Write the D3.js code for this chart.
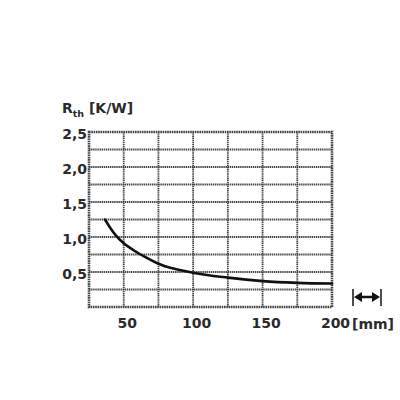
<!DOCTYPE html>
<html><head><meta charset="utf-8">
<script src="https://cdn.jsdelivr.net/npm/d3@7"></script>
<style>
html,body{margin:0;padding:0;background:#fff;}
svg{display:block;}
text{font-family:"DejaVu Sans",sans-serif;}
</style></head>
<body>
<script>
// Data
const lengthMm = [36.5, 40, 44, 50, 58, 65, 76, 100, 125, 150, 175, 200];
const rth      = [1.25, 1.14, 1.03, 0.91, 0.80, 0.72, 0.61, 0.49, 0.42, 0.37, 0.345, 0.335];
const xTickLabels = [50, 100, 150, 200];
const yTickLabels = [0.5, 1.0, 1.5, 2.0, 2.5];
const xGrid = [50, 75, 100, 125, 150, 175];
const yGrid = [0.25, 0.5, 0.75, 1.0, 1.25, 1.5, 1.75, 2.0, 2.25];

const W = 400, H = 400;
const svg = d3.select("body").append("svg").attr("width", W).attr("height", H);

const x = d3.scaleLinear().domain([25, 200]).range([89, 332]);
const y = d3.scaleLinear().domain([0, 2.5]).range([307, 132]);

const gridColor = "#444";
// grid
svg.append("g").selectAll("line").data(xGrid).join("line")
  .attr("x1", d => x(d)).attr("x2", d => x(d))
  .attr("y1", y(0)).attr("y2", y(2.5))
  .attr("stroke", gridColor).attr("stroke-width", 1.8).attr("stroke-dasharray", "1.4,0.7");
svg.append("g").selectAll("line").data(yGrid).join("line")
  .attr("y1", d => y(d)).attr("y2", d => y(d))
  .attr("x1", x(25)).attr("x2", x(200))
  .attr("stroke", gridColor).attr("stroke-width", 1.8).attr("stroke-dasharray", "1.4,0.7");
// border
svg.append("rect")
  .attr("x", x(25)).attr("y", y(2.5))
  .attr("width", x(200) - x(25)).attr("height", y(0) - y(2.5))
  .attr("fill", "none").attr("stroke", gridColor).attr("stroke-width", 2.6)
  .attr("stroke-dasharray", "1.6,0.7");

// curve
const pts = lengthMm.map((d, i) => [d, rth[i]]);
svg.append("path").datum(pts)
  .attr("d", d3.line().x(d => x(d[0])).y(d => y(d[1])).curve(d3.curveMonotoneX))
  .attr("fill", "none").attr("stroke", "#111").attr("stroke-width", 2.6)
  .attr("stroke-linecap", "round");

// axes labels
const xAxis = d3.axisBottom(x).tickValues(xTickLabels).tickSize(0).tickPadding(0)
  .tickFormat(d3.format("d"));
const gx = svg.append("g").attr("transform", `translate(3,${y(0) + 17})`).call(xAxis);
gx.select(".domain").remove();
gx.selectAll("text").attr("font-size", 14).attr("font-weight", "bold").attr("fill", "#2a2a2a")
  .attr("font-family", '"DejaVu Sans",sans-serif').attr("dy", "0.3em");

const yAxis = d3.axisLeft(y).tickValues(yTickLabels).tickSize(0).tickPadding(0)
  .tickFormat(d => d3.format(".1f")(d).replace(".", ","));
const gy = svg.append("g").attr("transform", `translate(${x(25) - 2},2.5)`).call(yAxis);
gy.select(".domain").remove();
gy.selectAll("text").attr("font-size", 14).attr("font-weight", "bold").attr("fill", "#2a2a2a")
  .attr("font-family", '"DejaVu Sans",sans-serif');

// unit label
svg.append("text").attr("x", x(200) + 20).attr("y", y(0) + 21.5)
  .attr("font-size", 14).attr("font-weight", "bold").attr("fill", "#2a2a2a")
  .attr("font-family", '"DejaVu Sans Condensed",sans-serif').text("[mm]");

// y title
const t = svg.append("text").attr("x", 62).attr("y", 113)
  .attr("font-size", 14).attr("font-weight", "bold").attr("fill", "#2a2a2a")
  .attr("font-family", '"DejaVu Sans Condensed",sans-serif');
t.append("tspan").text("R");
t.append("tspan").attr("font-size", 9.5).attr("dy", 4).text("th");
t.append("tspan").attr("dy", -4).text(" [K/W]");

// length icon
const ic = svg.append("g").attr("stroke", "#111").attr("fill", "#111");
const ix1 = x(200) + 21, ix2 = x(200) + 49, iy = y(0) - 10;
ic.append("line").attr("x1", ix1).attr("x2", ix1).attr("y1", iy - 8).attr("y2", iy + 9).attr("stroke-width", 1.5);
ic.append("line").attr("x1", ix2).attr("x2", ix2).attr("y1", iy - 8).attr("y2", iy + 9).attr("stroke-width", 1.5);
ic.append("line").attr("x1", ix1 + 5).attr("x2", ix2 - 5).attr("y1", iy).attr("y2", iy).attr("stroke-width", 2.5);
ic.append("path").attr("stroke", "none")
  .attr("d", `M${ix1 + 1},${iy} L${ix1 + 9},${iy - 5} L${ix1 + 9},${iy + 5} Z M${ix2 - 1},${iy} L${ix2 - 9},${iy - 5} L${ix2 - 9},${iy + 5} Z`);
</script>
</body></html>
